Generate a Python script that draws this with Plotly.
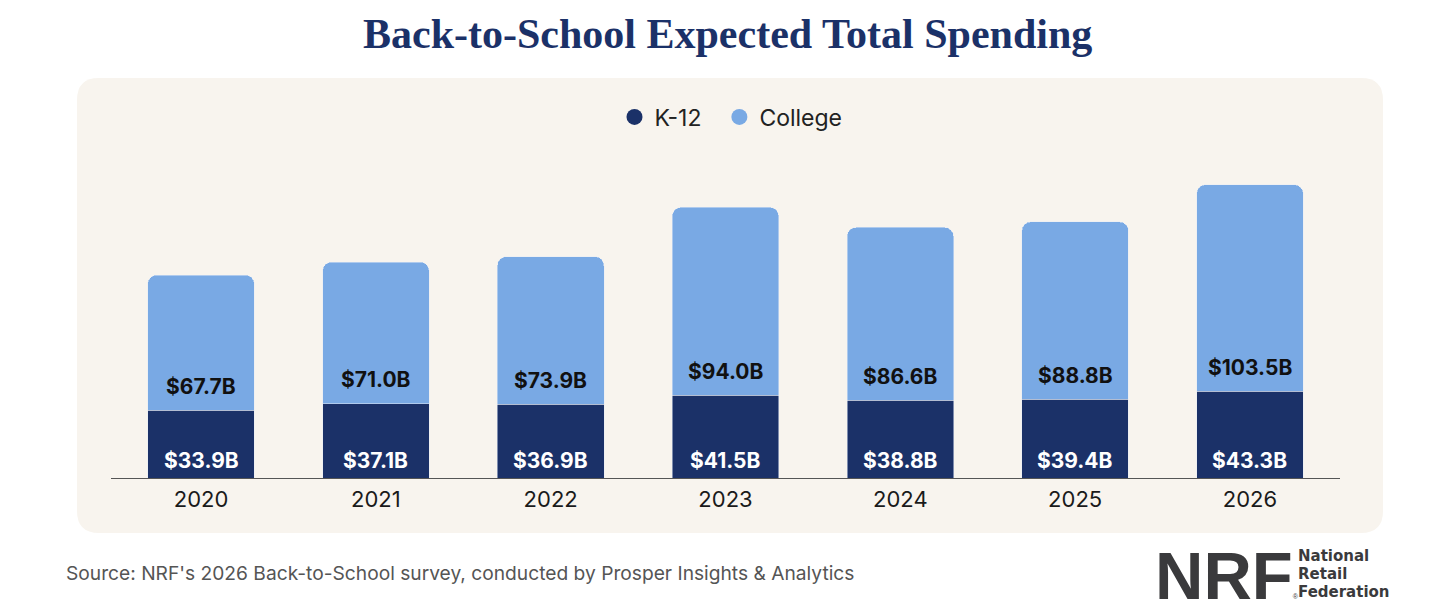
import plotly.graph_objects as go

# data
years = ["2020", "2021", "2022", "2023", "2024", "2025", "2026"]
k12 = [33.9, 37.1, 36.9, 41.5, 38.8, 39.4, 43.3]
college = [67.7, 71.0, 73.9, 94.0, 86.6, 88.8, 103.5]

NAVY = "#1b3168"
LIGHT = "#79a9e4"
PANEL = "#f8f4ee"
FONT = "Inter, Lato, sans-serif"

W, H = 1434, 616
L, R, T, B = 111, 94, 150, 138   # plot area in pixels
pw, ph = W - L - R, H - T - B


def px_to_paper(x, y):
    return (x - L) / pw, (H - B - y) / ph


def rounded_rect(x0, y0, x1, y1, r):
    # path in paper units, built from pixel corners so the radius stays round
    def p(x, y):
        a, b = px_to_paper(x, y)
        return f"{a:.5f},{b:.5f}"
    pts = ["M " + p(x0 + r, y0),
           "L " + p(x1 - r, y0), "Q " + p(x1, y0) + " " + p(x1, y0 + r),
           "L " + p(x1, y1 - r), "Q " + p(x1, y1) + " " + p(x1 - r, y1),
           "L " + p(x0 + r, y1), "Q " + p(x0, y1) + " " + p(x0, y1 - r),
           "L " + p(x0, y0 + r), "Q " + p(x0, y0) + " " + p(x0 + r, y0)]
    return " ".join(pts) + " Z"


def note(xpx, ypx, text, font, xanchor="center", **kw):
    xp, _ = px_to_paper(xpx, 0)
    _, yp = px_to_paper(0, ypx)
    fig.add_annotation(xref="paper", yref="paper", x=xp, y=yp, text=text,
                       showarrow=False, xanchor=xanchor, yanchor="middle",
                       font=font, **kw)


fig = go.Figure()
fig.add_trace(go.Bar(x=years, y=k12, name="K-12", marker_color=NAVY,
                     showlegend=False, hoverinfo="skip"))
fig.add_trace(go.Bar(x=years, y=college, name="College", marker_color=LIGHT,
                     showlegend=False, hoverinfo="skip"))

# legend entries drawn as circles (a little padding after K-12 to space the items)
for name, col in [("K-12&nbsp;&nbsp;", NAVY), ("College", LIGHT)]:
    fig.add_trace(go.Scatter(x=[None], y=[None], mode="markers", name=name,
                             marker=dict(symbol="circle", size=21, color=col)))

# value labels
for i, (a, b) in enumerate(zip(k12, college)):
    fig.add_annotation(x=i, y=0, yshift=18, text=f"&#36;{a:.1f}B", showarrow=False,
                       xanchor="center", yanchor="middle",
                       font=dict(family=FONT, size=21, color="white", weight="bold"))
    fig.add_annotation(x=i, y=a, yshift=24, text=f"&#36;{b:.1f}B", showarrow=False,
                       xanchor="center", yanchor="middle",
                       font=dict(family=FONT, size=21, color="#111111", weight="bold"))

fig.add_shape(type="path", xref="paper", yref="paper", layer="below",
              path=rounded_rect(77, 78, 1383, 533, 22),
              fillcolor=PANEL, line=dict(width=0))

# title, source and logo
note(727, 34, "<b>Back-to-School Expected Total Spending</b>",
     dict(family="Liberation Serif, serif", size=42, color=NAVY))
note(64, 573, "Source: NRF's 2026 Back-to-School survey, conducted by Prosper Insights & Analytics",
     dict(family=FONT, size=19.2, color="#555555"), xanchor="left")
note(1153, 575, "<b>NRF</b><span style='font-size:7px'>®</span>",
     dict(family="Liberation Sans, Arial, sans-serif", size=67, color="#3a3a3c"), xanchor="left")
for i, word in enumerate(["National", "Retail", "Federation"]):
    note(1296, 556 + i * 18, word,
         dict(family="DejaVu Sans, sans-serif", size=15, color="#3a3a3c", weight="bold"),
         xanchor="left")

fig.update_layout(
    width=W, height=H,
    barmode="stack", bargap=0.39, barcornerradius=9,
    margin=dict(l=L, r=R, t=T, b=B),
    paper_bgcolor="white", plot_bgcolor="rgba(0,0,0,0)",
    font=dict(family=FONT, size=18, color="#222222"),
    legend=dict(orientation="h", traceorder="normal",
                x=px_to_paper(731, 0)[0], xanchor="center",
                y=px_to_paper(0, 117)[1], yanchor="middle",
                font=dict(size=23, color="#222222"), bgcolor="rgba(0,0,0,0)",
                itemwidth=30),
    xaxis=dict(range=[-0.515, 6.515], showline=True, linecolor="#555555", linewidth=1,
               showgrid=False, ticks="", tickfont=dict(size=22, color="#1a1a1a"),
               ticklabelstandoff=2),
    yaxis=dict(range=[0, ph / 1.998], visible=False, showgrid=False, zeroline=False),
)

# the page body has a default 8px margin; drop it so the figure sits at 0,0
fig.write_html("out.html", config={"displayModeBar": False},
               post_script="document.body.style.margin='0px';")
